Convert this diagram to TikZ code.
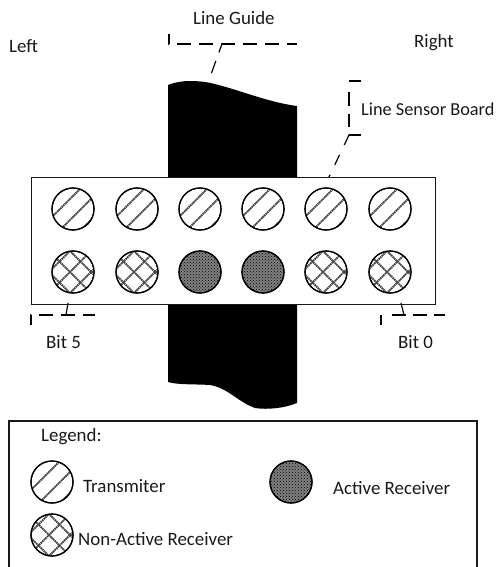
\documentclass[tikz,border=0pt]{standalone}
\usepackage{fontspec}
\setmainfont{Carlito}
\usetikzlibrary{patterns}
\tikzset{
  x=1pt,y=-1pt,
  lab/.style={inner sep=0pt,anchor=base west,font=\fontsize{18.9}{22}\selectfont,text=black!90},
  box/.style={draw=black!90,line width=1.2pt,fill=white},
  callout/.style={draw=black,line width=1.2pt,dash pattern=on 14pt off 8pt,dash phase=4pt},
  disc/.style={draw=black,line width=1.2pt,fill=white,circle,minimum size=42pt,inner sep=0pt},
  hatch/.style={draw=black!72,line width=1.9pt,line cap=butt,dash pattern=on 1.6pt off .6pt},
}
\newcommand{\discT}[2]{\node[disc] (#1) at (#2) {};
  \begin{scope}
    \clip (#2) circle[radius=21pt];
    \foreach \d in {-13,8,29}{
      \draw[hatch] ([xshift=-30pt,yshift={-30pt-\d pt}]#2) -- ([xshift=30pt,yshift={30pt-\d pt}]#2);
    }
  \end{scope}
  \node[disc,fill=none] at (#2) {};}
\newcommand{\discN}[2]{\node[disc] (#1) at (#2) {};
  \begin{scope}
    \clip (#2) circle[radius=21pt];
    \foreach \d in {-24,-3,18}{
      \draw[hatch] ([xshift=-30pt,yshift={-30pt-\d pt}]#2) -- ([xshift=30pt,yshift={30pt-\d pt}]#2);
      \draw[hatch] ([xshift=-30pt,yshift={30pt+\d pt}]#2) -- ([xshift=30pt,yshift={-30pt+\d pt}]#2);
    }
  \end{scope}
  \node[disc,fill=none] at (#2) {};}
\newcommand{\discA}[2]{\node[disc,fill=black!50] (#1) at (#2) {};
  \node[disc,fill=none,pattern=crosshatch dots,pattern color=black] at (#2) {};}
\begin{document}
\begin{tikzpicture}
\useasboundingbox (0,0) rectangle (497,567);
% line guide
\fill[black] (168,85) .. controls (178,81) and (190,80) .. (205,82)
  .. controls (230,86) and (265,102) .. (297,106) -- (297,403)
  .. controls (285,408) and (268,410) .. (255,408)
  .. controls (238,402) and (228,388) .. (210,385)
  .. controls (195,384) and (178,385) .. (168,382) -- cycle;
% board
\node[box,minimum width=404pt,minimum height=127pt,inner sep=0pt,anchor=north west] (board) at (31,177) {};
\discT{t1}{73,209}\discT{t2}{137,209}\discT{t3}{200,209}\discT{t4}{263,209}\discT{t5}{326,209}\discT{t6}{390,209}
\discN{r1}{73,272}\discN{r2}{137,272}\discA{r3}{200,272}\discA{r4}{263,272}\discN{r5}{326,272}\discN{r6}{390,272}
% labels
\node[lab] (lg) at (193,25) {Line Guide};
\node[lab] at (9,53) {Left};
\node[lab] at (414,48) {Right};
\node[lab,font=\fontsize{18.3}{22}\selectfont] (ls) at (361,116) {Line Sensor Board};
\node[lab] (b5) at (46,348) {Bit 5};
\node[lab] (b0) at (398,348) {Bit 0};
% callouts
\coordinate (lgA) at (222,44);\coordinate (lgB) at (210,77);
\draw[callout] (169,34) -- (169,44) -- (297,44);
\draw[callout,dash pattern=on 9pt off 9pt on 13pt off 9pt,dash phase=0pt] (lgA) -- (lgB);
\coordinate (lsA) at (349,135);
\draw[callout,dash pattern=on 12pt off 11pt on 14pt off 8pt on 13pt off 8pt on 13pt off 8pt,dash phase=0pt] (361,81) -- (349,81) -- (lsA) -- (361,135);
\draw[callout,dash pattern=on 11pt off 11pt,dash phase=0pt] (lsA) -- (329,177);
\coordinate (b5A) at (66,315);
\draw[callout] (31,325) -- (31,315) -- (95,315);
\draw[callout,dash pattern=on 14pt off 0pt,dash phase=0pt] (68,303) -- (b5A);
\coordinate (b0A) at (404,315);
\draw[callout,dash pattern=on 10pt off 11pt on 14pt off 7pt on 14pt off 7pt on 14pt off 7pt on 12pt off 9pt,dash phase=0pt] (381,325) -- (381,315) -- (445,315);
\draw[callout,dash pattern=on 14pt off 0pt,dash phase=0pt] (401,303) -- (b0A);
% legend
\draw[box,fill=none] (9,567) -- (9,421) -- (477,421) -- (477,567);
\node[lab] at (41,441) {Legend:};
\discT{lt}{52,482}\discA{la}{291,482}\discN{ln}{52,535}
\node[lab] at (83,492) {Transmiter};
\node[lab] at (333,494) {Active Receiver};
\node[lab] at (78,545) {Non-Active Receiver};
\end{tikzpicture}
\end{document}
